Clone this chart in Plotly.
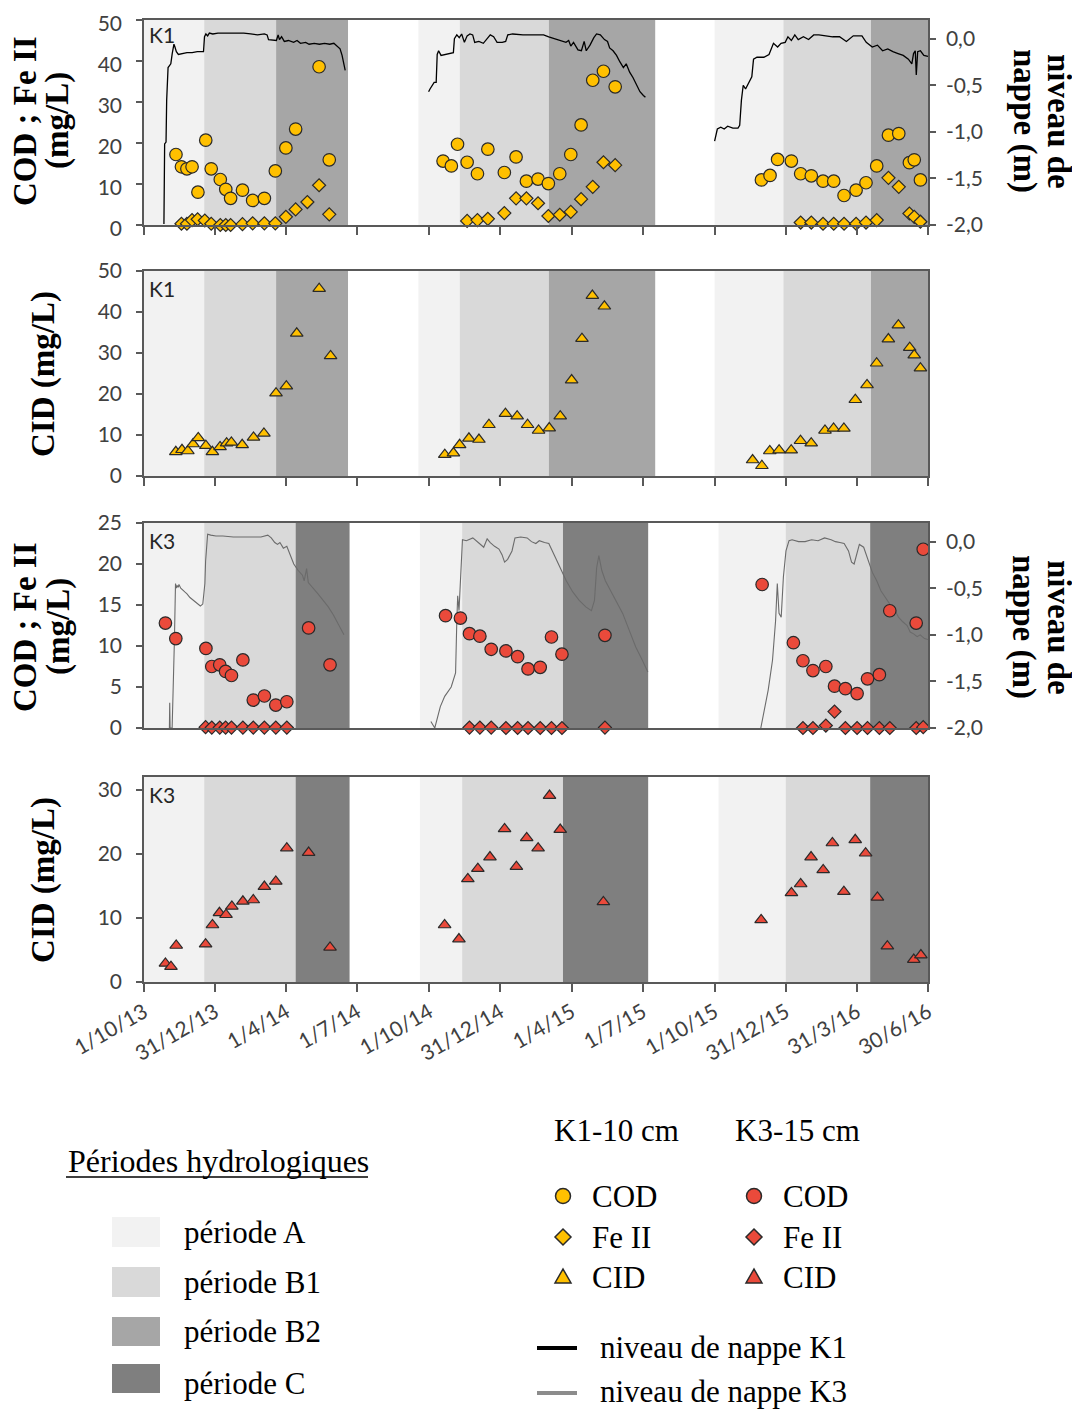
import pandas as pd
import plotly.graph_objects as go

REF_W, REF_H = 1080, 1411
PAGE_OFFSET = 8                      # the page body adds an 8 px margin around the figure
W, H = REF_W - PAGE_OFFSET, REF_H - PAGE_OFFSET
ORIGIN = "2013-10-01"   # all *_DAY lists are days counted from 1/10/13

# ---------------- x axis ticks ----------------
TICK_DATES = ["2013-10-01", "2013-12-31", "2014-04-01", "2014-07-01", "2014-10-01", "2014-12-31",
              "2015-04-01", "2015-07-01", "2015-10-01", "2015-12-31", "2016-03-31", "2016-06-30"]
TICK_TEXT = ["1/10/13", "31/12/13", "1/4/14", "1/7/14", "1/10/14", "31/12/14",
             "1/4/15", "1/7/15", "1/10/15", "31/12/15", "31/3/16", "30/6/16"]
LEVEL_TICKS = [0, -0.5, -1, -1.5, -2]
LEVEL_TEXT = ["0,0", "-0,5", "-1,0", "-1,5", "-2,0"]

# ---------------- hydrological periods ----------------
K1_PERIOD_START = ["2013-10-01", "2013-12-17", "2014-03-19", "2014-09-17", "2014-11-09", "2015-03-03",
                   "2015-10-01", "2015-12-28", "2016-04-18"]
K1_PERIOD_END = ["2013-12-17", "2014-03-19", "2014-06-19", "2014-11-09", "2015-03-03", "2015-07-17",
                 "2015-12-28", "2016-04-18", "2016-06-30"]
K1_PERIOD_KIND = ["A", "B1", "B2", "A", "B1", "B2", "A", "B1", "B2"]
K3_PERIOD_START = ["2013-10-01", "2013-12-17", "2014-04-13", "2014-09-19", "2014-11-12", "2015-03-21",
                   "2015-10-06", "2015-12-31", "2016-04-17"]
K3_PERIOD_END = ["2013-12-17", "2014-04-13", "2014-06-21", "2014-11-12", "2015-03-21", "2015-07-08",
                 "2015-12-31", "2016-04-17", "2016-06-30"]
K3_PERIOD_KIND = ["A", "B1", "C", "A", "B1", "C", "A", "B1", "C"]
PERIOD_NAMES = ["A", "B1", "B2", "C"]
PERIOD_COLORS = ["#f2f2f2", "#d9d9d9", "#a6a6a6", "#7f7f7f"]
PERIOD_LABELS = ["période A", "période B1", "période B2", "période C"]

# ---------------- K1 - 10 cm ----------------
K1_COD_DAY = [40.9, 47.9, 54.9, 61.5, 69, 79, 86, 97.6, 104.6, 110.8, 126, 139, 154, 168, 181.5, 194, 224, 237,
              382.6, 393.2, 401.1, 413.4, 426.6, 439.9, 461, 476, 489.2, 504.1, 517.3, 531.9, 546, 559.2, 574.1, 587.8, 602.8,
              789.9, 800.9, 810.6, 828.2, 840.1, 853.7, 868.7, 882.4, 895.6, 911, 923.7, 937.4, 952.4, 965.6, 979.2, 985.4, 993.3]
K1_COD = [17.2, 14.2, 13.7, 14.2, 8.0, 20.7, 13.7, 11.1, 8.7, 6.5, 8.5, 6.0, 6.5, 13.2, 18.8, 23.4, 38.6, 15.9,
          15.6, 14.4, 19.7, 15.3, 12.5, 18.5, 12.8, 16.6, 10.7, 11.2, 10.1, 12.5, 17.2, 24.4, 35.3, 37.5, 33.7,
          11.0, 12.1, 16.0, 15.6, 12.5, 12.0, 10.7, 10.7, 7.2, 8.5, 10.3, 14.4, 21.9, 22.3, 15.2, 15.9, 11.0]

K1_FE_DAY = [47.9, 54.9, 61.5, 68.6, 77.8, 86, 97.6, 104.6, 110.8, 126, 139, 154, 168, 181.5, 194, 209, 224, 237,
             413.4, 426.6, 439.9, 461, 476, 489.2, 504.1, 517.3, 531.9, 546, 559.2, 574.1, 587.8, 602.8,
             840.1, 853.7, 868.7, 882.4, 895.6, 911, 923.7, 937.4, 952.4, 965.6, 979.2, 985.4, 993.3]
K1_FE = [0.3, 0.3, 1.2, 1.4, 1.1, 0.3, 0.0, 0.0, 0.0, 0.2, 0.4, 0.4, 0.4, 2.0, 3.8, 5.6, 9.7, 2.6,
         1.0, 1.2, 1.5, 2.9, 6.5, 6.5, 5.3, 2.2, 2.5, 3.2, 6.3, 9.3, 15.3, 14.6,
         0.6, 0.6, 0.3, 0.3, 0.3, 0.3, 0.6, 1.2, 11.5, 9.3, 2.8, 2.0, 0.8]

K1_CID_DAY = [40.7, 48.6, 56.1, 62.8, 69.4, 79.1, 87.5, 97.3, 105.7, 111.8, 125.6, 140.1, 153.4, 168.9, 182.1, 195.4, 224.1, 238.7,
              384.8, 395.9, 403.8, 415.7, 428.5, 441.3, 462.4, 477.4, 490.7, 504.8, 518.4, 532.5, 547.1, 560.3, 573.6, 589,
              778.6, 790.5, 800.6, 812.5, 828, 839.9, 853.6, 871.2, 882.2, 895.4, 910, 925, 937.3, 952.3, 965.1, 979.6, 985.4, 993.3]
K1_CID = [5.9, 6.4, 6.1, 7.8, 9.3, 7.4, 5.9, 7.1, 8.0, 8.2, 7.6, 9.4, 10.4, 20.2, 21.9, 34.8, 45.7, 29.3,
          5.2, 5.6, 7.6, 9.2, 8.9, 12.5, 15.2, 14.6, 12.5, 11.1, 11.7, 14.6, 23.4, 33.5, 44.0, 41.4,
          3.9, 2.5, 6.1, 6.3, 6.3, 8.6, 8.0, 11.1, 11.6, 11.6, 18.6, 22.2, 27.5, 33.4, 36.8, 31.3, 29.5, 26.3]

K1_LEVEL_S1_DAY = [25.5, 26.4, 28.2, 29.0, 30.8, 32.6, 34.3, 36.1, 38.3, 39.6, 41.4, 44.0, 48.4, 55.0, 61.6, 68.2, 76.1,
                   77.4, 79.2, 81.4, 83.6, 88.0, 94.6, 105.6, 118.8, 127.6, 136.4, 145.2, 154.0, 157.5, 159.3, 165.0,
                   169.4, 171.6, 173.3, 176.0, 179.5, 184.8, 191.4, 195.8, 200.2, 206.8, 211.2, 217.8, 224.4, 231.0,
                   237.6, 242.9, 247.3, 250.8, 253.4, 256.0, 257.4]
K1_LEVEL_S1 = [-1.99, -1.13, -1.11, -0.66, -0.31, -0.29, -0.27, -0.16, -0.06, -0.09, -0.14, -0.17, -0.16, -0.15, -0.15,
               -0.14, -0.14, 0.02, 0.05, 0.03, 0.06, 0.05, 0.06, 0.06, 0.06, 0.06, 0.05, 0.04, 0.05, 0.04, -0.01, -0.02,
               -0.02, 0.04, -0.01, 0.02, -0.03, -0.02, -0.04, -0.02, -0.05, -0.04, -0.06, -0.05, -0.06, -0.05, -0.06,
               -0.05, -0.08, -0.11, -0.18, -0.29, -0.34]
K1_LEVEL_S2_DAY = [364.1, 365.9, 371.2, 373.8, 375.1, 376.9, 380.0, 385.7, 392.3, 395.8, 397.1, 400.2, 403.3, 406.4,
                   409.9, 413.4, 417.0, 420.5, 423.1, 428.4, 434.1, 438.5, 443.0, 447.3, 451.7, 458.3, 462.7, 465.4,
                   471.6, 484.8, 498.0, 511.2, 517.8, 524.4, 533.2, 539.8, 543.3, 546.0, 549.5, 555.2, 559.6, 563.1,
                   565.8, 570.6, 575.5, 579.0, 583.8, 589.1, 593.0, 595.7, 600.1, 604.5, 608.9, 613.3, 616.9, 621.3,
                   625.7, 630.1, 634.5, 638.9, 641.5]
K1_LEVEL_S2 = [-0.57, -0.54, -0.47, -0.47, -0.17, -0.13, -0.18, -0.17, -0.16, -0.15, 0.00, 0.04, 0.01, 0.05, -0.04,
               0.03, 0.05, 0.04, -0.04, -0.03, -0.05, -0.01, 0.04, 0.02, -0.04, -0.04, -0.03, 0.04, 0.05, 0.04, 0.04,
               0.04, 0.02, 0.00, -0.02, -0.04, -0.02, -0.08, -0.04, -0.12, -0.13, -0.03, -0.13, -0.07, 0.01, 0.05,
               0.04, -0.01, -0.03, -0.10, -0.13, -0.18, -0.25, -0.31, -0.27, -0.36, -0.42, -0.50, -0.57, -0.61, -0.63]
K1_LEVEL_S3_DAY = [730.0, 733.5, 737.9, 742.3, 746.7, 753.3, 759.9, 762.1, 764.3, 766.6, 769.6, 772.3, 775.4, 777.6,
                   779.8, 784.2, 793.0, 799.6, 805.3, 810.6, 815.0, 820.3, 823.8, 828.2, 832.6, 837.0, 843.6, 850.2,
                   856.8, 863.4, 872.2, 881.0, 889.8, 898.6, 907.4, 918.5, 924.0, 931.7, 938.3, 944.9, 951.5, 958.1,
                   964.7, 971.3, 977.9, 982.3, 984.5, 986.7, 988.0, 989.8, 993.3, 997.7, 1003.0]
K1_LEVEL_S3 = [-1.10, -0.97, -0.95, -0.97, -0.94, -0.96, -0.96, -0.93, -0.66, -0.50, -0.54, -0.50, -0.45, -0.41,
               -0.22, -0.20, -0.20, -0.17, -0.05, -0.09, -0.05, -0.04, 0.02, -0.02, 0.04, -0.01, 0.02, -0.01, 0.04,
               0.04, 0.03, 0.02, 0.02, -0.03, 0.03, 0.03, -0.04, -0.09, -0.07, -0.13, -0.11, -0.14, -0.16, -0.18,
               -0.22, -0.27, -0.16, -0.13, -0.39, -0.14, -0.13, -0.18, -0.19]

# ---------------- K3 - 15 cm ----------------
K3_COD_DAY = [27.4, 40.7, 79.2, 86.7, 96.9, 104.4, 111.9, 126.5, 139.8, 154, 168.6, 182.7, 210.6, 238,
              385.8, 404.8, 416.4, 429.7, 444.2, 463, 478, 491.3, 506.9, 521.3, 534.7, 589.7,
              790.8, 830.8, 843, 855.8, 872.3, 883.4, 897.3, 912.3, 925.6, 940.8, 954.1, 987.9, 996.9]
K3_COD = [12.8, 10.9, 9.7, 7.5, 7.7, 6.9, 6.4, 8.3, 3.4, 3.9, 2.8, 3.2, 12.2, 7.7,
          13.7, 13.4, 11.5, 11.2, 9.6, 9.4, 8.7, 7.2, 7.4, 11.1, 9.0, 11.3,
          17.5, 10.4, 8.2, 7.0, 7.5, 5.1, 4.8, 4.2, 6.0, 6.5, 14.3, 12.8, 21.8]

K3_FE_DAY = [78.8, 86.7, 96.9, 104.4, 111.9, 126.5, 139.8, 154, 168.6, 182.7,
             416.4, 429.7, 444.2, 463, 478, 491.3, 506.9, 521.3, 534.7, 589.7,
             843, 855.8, 872.3, 883.4, 897.3, 912.3, 925.6, 940.8, 954.1, 987.9, 996.9]
K3_FE = [0.1, 0.05, 0.05, 0.05, 0.05, 0.05, 0.05, 0.05, 0.05, 0.05,
         0.05, 0.05, 0.05, 0.0, 0.0, 0.0, 0.0, 0.0, 0.0, 0.05,
         0.0, 0.0, 0.3, 2.0, 0.0, 0.0, 0.0, 0.0, 0.0, 0.0, 0.1]

K3_CID_DAY = [27.4, 34.5, 41.2, 78.8, 87.6, 96.5, 104.9, 112.4, 126.5, 139.8, 154, 168.6, 182.7, 210.6, 238,
              384.6, 402.9, 414.3, 427.1, 442.6, 461.3, 476.4, 489.6, 504.2, 518.8, 532.5, 587.7,
              789.5, 828.3, 840.1, 853.4, 868.9, 880.7, 895.4, 909.9, 923.2, 938.3, 951, 984.8, 993.9]
K3_CID = [2.9, 2.4, 5.7, 5.9, 8.9, 10.8, 10.5, 11.8, 12.6, 12.8, 14.9, 15.7, 20.9, 20.2, 5.4,
          8.9, 6.7, 16.1, 17.7, 19.5, 23.9, 18.0, 22.5, 20.9, 29.1, 23.8, 12.5,
          9.7, 13.9, 15.3, 19.5, 17.5, 21.7, 14.1, 22.2, 20.1, 13.2, 5.6, 3.5, 4.2]

K3_LEVEL_S1_DAY = [32.5, 32.9, 33.4, 36.0, 37.6, 38.9, 40.3, 41.6, 42.5, 43.8, 44.7, 47.0, 52.2, 55.0, 58.8, 62.0,
                   65.5, 69.0, 72.1, 75.2, 77.0, 77.9, 78.8, 80.0, 81.4, 85.4, 92.0, 100.9, 114.2, 131.9, 149.6,
                   158.4, 162.8, 167.3, 170.8, 173.9, 178.3, 182.7, 187.2, 191.6, 197.3, 202.7, 204.9, 208.0, 210.2,
                   215.9, 222.6, 229.2, 235.8, 242.5, 249.1, 255.8]
K3_LEVEL_S1 = [-2.0, -1.73, -2.0, -2.0, -1.55, -1.06, -0.45, -0.50, -0.47, -0.49, -0.46, -0.50, -0.54, -0.56, -0.60,
               -0.62, -0.65, -0.67, -0.69, -0.67, -0.55, -0.45, -0.21, 0.00, 0.08, 0.07, 0.06, 0.06, 0.05, 0.05, 0.05,
               0.07, 0.04, -0.01, -0.03, -0.01, -0.07, -0.05, -0.14, -0.24, -0.31, -0.36, -0.42, -0.29, -0.44, -0.49,
               -0.56, -0.63, -0.70, -0.79, -0.90, -1.00]
K3_LEVEL_S2_DAY = [367.0, 372.0, 379.1, 384.7, 393.0, 398.6, 400.2, 401.3, 403.0, 405.8, 407.4, 412.4, 420.7, 429.1,
                   434.6, 439.0, 443.0, 448.5, 454.1, 458.0, 461.3, 465.2, 470.8, 474.6, 481.9, 490.2, 495.7, 501.3,
                   505.7, 512.4, 517.9, 526.3, 534.6, 540.2, 548.5, 556.8, 565.2, 572.4, 576.3, 579.1, 581.9, 585.7,
                   590.2, 595.7, 604.1, 612.4, 620.7, 629.1, 637.4, 644.6]
K3_LEVEL_S2 = [-1.93, -2.0, -1.77, -1.66, -1.56, -1.41, -0.85, -0.58, -0.74, -0.14, 0.02, 0.01, 0.04, -0.02, -0.06,
               0.03, -0.01, -0.05, -0.08, -0.14, -0.22, -0.19, -0.10, 0.04, 0.05, 0.04, 0.00, -0.02, 0.01, -0.01,
               -0.02, -0.17, -0.33, -0.42, -0.54, -0.63, -0.70, -0.74, -0.63, -0.28, -0.15, -0.31, -0.42, -0.51,
               -0.63, -0.77, -0.95, -1.13, -1.27, -1.40]
K3_LEVEL_S3_DAY = [789.1, 793.0, 798.6, 804.1, 808.0, 810.2, 812.4, 815.2, 818.0, 821.3, 825.2, 829.1, 837.4, 845.8,
                   854.1, 862.4, 870.7, 879.1, 884.6, 890.2, 895.7, 901.3, 905.2, 908.5, 911.3, 915.2, 920.7, 926.3,
                   931.8, 937.4, 942.9, 948.5, 954.1, 959.6, 965.2, 970.7, 976.3, 980.2, 984.6, 989.1, 993.0, 998.5,
                   1003.0]
K3_LEVEL_S3 = [-2.0, -1.84, -1.59, -1.27, -0.85, -0.45, -0.77, -0.81, -0.38, -0.10, 0.01, 0.02, 0.00, 0.00, 0.02,
               0.01, 0.04, 0.02, 0.00, -0.01, -0.02, -0.10, -0.22, -0.24, -0.14, -0.03, -0.06, -0.19, -0.33, -0.42,
               -0.53, -0.60, -0.67, -0.72, -0.81, -0.86, -0.90, -0.97, -0.99, -1.02, -1.00, -1.04, -1.05]

# ---------------- styling ----------------
GOLD, RED, EDGE = "#ffc000", "#ea4a3b", "#2a2a2a"
AXC = "#595959"
TICKFONT = dict(family="Lato", size=21, color="#404040")
SERIF = "Liberation Serif"


def px(x):
    """reference-image pixel column -> paper fraction"""
    return (x - PAGE_OFFSET) / W


def py(y):
    """reference-image pixel row -> paper fraction"""
    return 1 - (y - PAGE_OFFSET) / H


def to_dates(days):
    base = pd.Timestamp(ORIGIN)
    return [None if v is None else base + pd.Timedelta(days=float(v)) for v in days]


def join(*parts):
    out = []
    for i, p in enumerate(parts):
        if i:
            out.append(None)
        out.extend(p)
    return out


XDOM = [px(144), px(928)]
P1 = [py(225), py(20)]
P2 = [py(476), py(271)]
P3 = [py(728), py(523)]
P4 = [py(982), py(777)]

fig = go.Figure()


def add_points(days, vals, symbol, size, fill, xa, ya, edge_w=1.2):
    fig.add_trace(go.Scatter(x=to_dates(days), y=vals, mode="markers", cliponaxis=False, showlegend=False,
                             hoverinfo="skip", xaxis=xa, yaxis=ya,
                             marker=dict(symbol=symbol, size=size, color=fill, line=dict(color=EDGE, width=edge_w))))


def add_level(days, vals, color, width, xa, ya):
    fig.add_trace(go.Scatter(x=to_dates(days), y=vals, mode="lines", connectgaps=False, showlegend=False,
                             hoverinfo="skip", xaxis=xa, yaxis=ya, line=dict(color=color, width=width)))


# panel 1: K1 level (base axis y, right) + COD / Fe II (overlay y2, left)
add_level(join(K1_LEVEL_S1_DAY, K1_LEVEL_S2_DAY, K1_LEVEL_S3_DAY), join(K1_LEVEL_S1, K1_LEVEL_S2, K1_LEVEL_S3),
          "#000000", 1.3, "x", "y")
add_points(K1_FE_DAY, K1_FE, "diamond", 10, GOLD, "x", "y2")
add_points(K1_COD_DAY, K1_COD, "circle", 12.5, GOLD, "x", "y2")
# panel 2: K1 CID
add_points(K1_CID_DAY, K1_CID, "triangle-up", 11, GOLD, "x2", "y3")
# panel 3: K3 level + COD / Fe II
add_level(join(K3_LEVEL_S1_DAY, K3_LEVEL_S2_DAY, K3_LEVEL_S3_DAY), join(K3_LEVEL_S1, K3_LEVEL_S2, K3_LEVEL_S3),
          "#6b6b6b", 1.1, "x3", "y4")
add_points(K3_FE_DAY, K3_FE, "diamond", 10, RED, "x3", "y5")
add_points(K3_COD_DAY, K3_COD, "circle", 12.5, RED, "x3", "y5")
# panel 4: K3 CID
add_points(K3_CID_DAY, K3_CID, "triangle-up", 11, RED, "x4", "y6")


def xaxis(anchor, ticks, labels):
    return dict(type="date", domain=XDOM, range=["2013-10-01", "2016-06-30"], anchor=anchor, automargin=False,
                showline=True, linecolor=AXC, linewidth=1.5, mirror=True, showgrid=False, zeroline=False,
                tickmode="array", tickvals=TICK_DATES, ticktext=TICK_TEXT, ticklabeloverflow="allow",
                ticks="outside" if ticks else "", ticklen=8, tickwidth=1.5, tickcolor=AXC,
                tickangle=-30, showticklabels=labels, tickfont=TICKFONT)


def yaxis(domain, rng, tickvals, anchor, side="left", overlaying=None, ticktext=None, mirror=False, standoff=10,
          shift=0):
    d = dict(range=rng, anchor=anchor, side=side, showline=True, linecolor=AXC, linewidth=1.5, automargin=False,
             mirror=mirror, showgrid=False, zeroline=False, tickmode="array", tickvals=tickvals,
             ticks="outside", ticklen=6, tickwidth=1.5, tickcolor=AXC, tickfont=TICKFONT,
             ticklabelstandoff=standoff, ticklabeloverflow="allow", ticklabelshift=shift)
    if ticktext is not None:
        d["ticktext"] = ticktext
    if overlaying:
        d["overlaying"] = overlaying
    else:
        d["domain"] = domain
    return d


layout = dict(
    width=W, height=H, autosize=False, margin=dict(l=0, r=0, t=0, b=0, pad=0, autoexpand=False),
    paper_bgcolor="white", plot_bgcolor="white", showlegend=False,
    xaxis=xaxis("y", True, False),
    xaxis2=xaxis("y3", True, False),
    xaxis3=xaxis("y4", False, False),
    xaxis4=xaxis("y6", True, True),
    yaxis=yaxis(P1, [-2, 0.2], LEVEL_TICKS, "x", side="right", ticktext=LEVEL_TEXT, standoff=6),
    # labels of the top panel are nudged 4 px down so that "50" stays inside the page
    yaxis2=yaxis(None, [0, 50], [0, 10, 20, 30, 40, 50], "x", side="left", overlaying="y", shift=4),
    yaxis3=yaxis(P2, [0, 50], [0, 10, 20, 30, 40, 50], "x2", mirror=True),
    yaxis4=yaxis(P3, [-2, 0.2], LEVEL_TICKS, "x3", side="right", ticktext=LEVEL_TEXT, standoff=6),
    yaxis5=yaxis(None, [0, 25], [0, 5, 10, 15, 20, 25], "x3", side="left", overlaying="y4"),
    yaxis6=yaxis(P4, [0, 32], [0, 10, 20, 30], "x4", mirror=True),
)
fig.update_layout(**layout)

shapes = []
# period bands
color_of = dict(zip(PERIOD_NAMES, PERIOD_COLORS))
for xref, yref, starts, ends, kinds in [
    ("x", "y domain", K1_PERIOD_START, K1_PERIOD_END, K1_PERIOD_KIND),
    ("x2", "y3 domain", K1_PERIOD_START, K1_PERIOD_END, K1_PERIOD_KIND),
    ("x3", "y4 domain", K3_PERIOD_START, K3_PERIOD_END, K3_PERIOD_KIND),
    ("x4", "y6 domain", K3_PERIOD_START, K3_PERIOD_END, K3_PERIOD_KIND),
]:
    for s, e, k in zip(starts, ends, kinds):
        shapes.append(dict(type="rect", xref=xref, yref=yref, x0=s, x1=e, y0=0, y1=1, layer="below",
                           fillcolor=color_of[k], line=dict(width=0)))

annotations = []


def text(x, y, s, size, family=SERIF, xanchor="left", angle=0, color="#000000"):
    annotations.append(dict(x=px(x), y=py(y), xref="paper", yref="paper", text=s, showarrow=False,
                            xanchor=xanchor, yanchor="middle", textangle=angle,
                            font=dict(family=family, size=size, color=color)))


# axis titles
for yc in (121, 627):
    text(25, yc, "<b>COD ; Fe II</b>", 33, xanchor="center", angle=-90)
    text(58, yc, "<b>(mg/L)</b>", 33, xanchor="center", angle=-90)
    text(1059, yc, "<b>niveau de</b>", 33, xanchor="center", angle=90)
    text(1024, yc, "<b>nappe (m)</b>", 33, xanchor="center", angle=90)
for yc in (374, 880):
    text(43, yc, "<b>CID (mg/L)</b>", 33, xanchor="center", angle=-90)

# site labels
for yc, s in [(34, "K1"), (288, "K1"), (540, "K3"), (794, "K3")]:
    text(147, yc, s, 21, family="Lato", color="#262626")

# ---- legend: hydrological periods ----
text(66, 1161, "Périodes hydrologiques", 32)
shapes.append(dict(type="line", xref="paper", yref="paper", x0=px(66), x1=px(368), y0=py(1177), y1=py(1177),
                   line=dict(color="#000000", width=1.5)))
for (top, bot, yc), col, lab in zip([(1217, 1247, 1232), (1267, 1297, 1282), (1317, 1346, 1331), (1364, 1393, 1383)],
                                    PERIOD_COLORS, PERIOD_LABELS):
    shapes.append(dict(type="rect", xref="paper", yref="paper", x0=px(112), x1=px(160), y0=py(bot), y1=py(top),
                       fillcolor=col, line=dict(width=0)))
    text(182, yc, lab, 31)

# ---- legend: series ----
text(616, 1130, "K1-10 cm", 31, xanchor="center")
text(797, 1130, "K3-15 cm", 31, xanchor="center")
for xc, fill in [(563, GOLD), (754, RED)]:
    shapes.append(dict(type="circle", xref="paper", yref="paper", xsizemode="pixel", ysizemode="pixel",
                       xanchor=px(xc), yanchor=py(1196), x0=-7.5, x1=7.5, y0=-7.5, y1=7.5,
                       fillcolor=fill, line=dict(color=EDGE, width=1.5)))
    shapes.append(dict(type="path", xref="paper", yref="paper", xsizemode="pixel", ysizemode="pixel",
                       xanchor=px(xc), yanchor=py(1237), path="M0,8 L8,0 L0,-8 L-8,0 Z",
                       fillcolor=fill, line=dict(color=EDGE, width=1.5)))
    shapes.append(dict(type="path", xref="paper", yref="paper", xsizemode="pixel", ysizemode="pixel",
                       xanchor=px(xc), yanchor=py(1277), path="M-8,-6 L8,-6 L0,8 Z",
                       fillcolor=fill, line=dict(color=EDGE, width=1.5)))
    for yc, lab in [(1196, "COD"), (1237, "Fe II"), (1277, "CID")]:
        text(xc + 27, yc, lab, 31)

shapes.append(dict(type="line", xref="paper", yref="paper", x0=px(537), x1=px(577), y0=py(1348), y1=py(1348),
                   line=dict(color="#000000", width=4)))
shapes.append(dict(type="line", xref="paper", yref="paper", x0=px(537), x1=px(577), y0=py(1393), y1=py(1393),
                   line=dict(color="#8c8c8c", width=4)))
text(598, 1347, "niveau de nappe K1", 31)
text(598, 1391, "niveau de nappe K3", 31)

fig.update_layout(shapes=shapes, annotations=annotations)
fig.write_html("out.html")
